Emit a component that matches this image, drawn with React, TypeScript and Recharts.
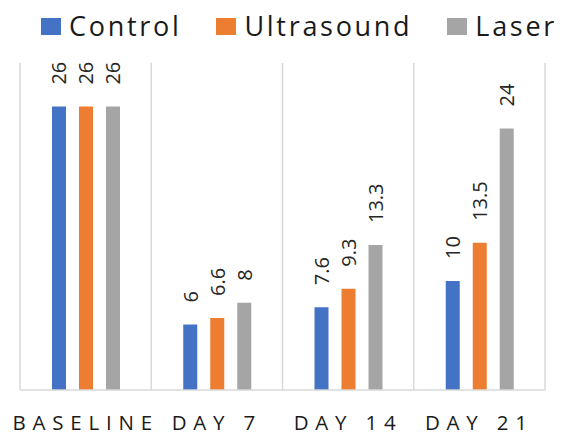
import React from "react";
import { BarChart, Bar, XAxis, YAxis, CartesianGrid, Legend, LabelList } from "recharts";

const categories = ["BASELINE", "DAY 7", "DAY 14", "DAY 21"];
const control = [26, 6, 7.6, 10];
const ultrasound = [26, 6.6, 9.3, 13.5];
const laser = [26, 8, 13.3, 24];
const seriesNames = ["Control", "Ultrasound", "Laser"];
const seriesColors = ["#4472C4", "#ED7D31", "#A5A5A5"];
const separatorTicks = [0, 1, 2, 3, 4];

const data = categories.map((c, i) => ({
  name: c,
  idx: i + 0.5,
  Control: control[i],
  Ultrasound: ultrasound[i],
  Laser: laser[i],
}));

const FONT = "'Open Sans', 'Noto Sans', sans-serif";

const RotLabel = (props: any) => {
  const { x, y, width, value } = props;
  const cx = x + width / 2;
  const cy = y - 22;
  return (
    <text
      x={cx}
      y={cy}
      transform={`rotate(-90, ${cx}, ${cy})`}
      textAnchor="start"
      dominantBaseline="central"
      fontFamily={FONT}
      fontSize={20}
      fill="#262626"
    >
      {value}
    </text>
  );
};

const LegendContent = () => (
  <div
    style={{
      height: 63,
      display: "flex",
      alignItems: "flex-start",
      paddingLeft: 21,
      paddingTop: 10,
      boxSizing: "border-box",
      fontFamily: FONT,
      whiteSpace: "nowrap",
    }}
  >
    {seriesNames.map((n, i) => (
      <div key={n} style={{ display: "flex", alignItems: "center", marginRight: 35 }}>
        <div style={{ width: 20, height: 17, background: seriesColors[i], marginRight: 8 }} />
        <span style={{ fontSize: 27, letterSpacing: 2.7, color: "#1a1a1a", lineHeight: "32px", fontWeight: 500 }}>{n}</span>
      </div>
    ))}
  </div>
);

export default function App() {
  return (
    <div style={{ position: "absolute", left: 0, top: 0, width: 562, height: 435, background: "#fff" }}>
      <BarChart
        width={562}
        height={435}
        data={data}
        margin={{ top: 0, right: 17, bottom: 0, left: 20 }}
        barSize={14}
        barGap={13}
      >
        <Legend verticalAlign="top" align="left" content={<LegendContent />} height={63} />
        <XAxis
          xAxisId="grid"
          type="number"
          dataKey="idx"
          domain={[0, 4]}
          ticks={separatorTicks}
          hide
        />
        <CartesianGrid xAxisId="grid" horizontal={false} vertical stroke="#D9D9D9" strokeWidth={1.5} />
        <XAxis
          dataKey="name"
          height={45}
          axisLine={{ stroke: "#D9D9D9", strokeWidth: 1.5 }}
          tickLine={false}
          tickMargin={19}
          tick={{ fontFamily: FONT, fontSize: 20.5, letterSpacing: 6.8, fill: "#1a1a1a" }}
          interval={0}
        />
        <YAxis hide domain={[0, 30]} />
        {seriesNames.map((n, i) => (
          <Bar key={n} dataKey={n} fill={seriesColors[i]} isAnimationActive={false}>
            <LabelList dataKey={n} content={<RotLabel />} />
          </Bar>
        ))}
      </BarChart>
    </div>
  );
}
